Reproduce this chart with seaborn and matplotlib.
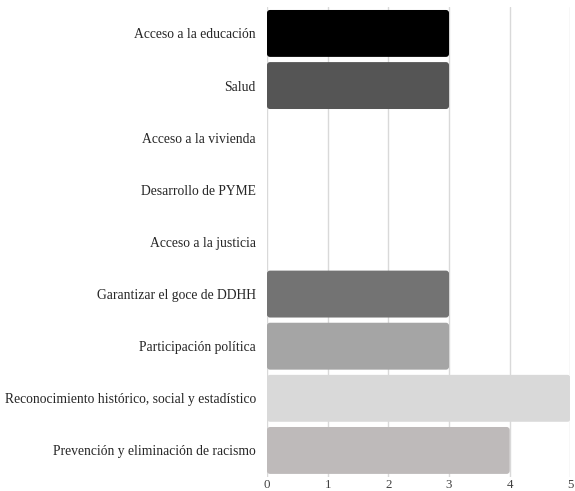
import matplotlib
matplotlib.use("Agg")
import matplotlib.pyplot as plt
import seaborn as sns
import pandas as pd
from matplotlib.patches import FancyBboxPatch

categorias = [
    "Acceso a la educación",
    "Salud",
    "Acceso a la vivienda",
    "Desarrollo de PYME",
    "Acceso a la justicia",
    "Garantizar el goce de DDHH",
    "Participación política",
    "Reconocimiento histórico, social y estadístico",
    "Prevención y eliminación de racismo",
]
valores = [3, 3, 0, 0, 0, 3, 3, 5, 4]
colores = ["#000000", "#555555", "#444444", "#666666", "#888888",
           "#737373", "#a5a5a5", "#d9d9d9", "#bfb9b9"]

df = pd.DataFrame({"categoria": categorias, "valor": valores})

sns.set_style("white")
plt.rcParams["font.family"] = ["Liberation Serif", "DejaVu Serif"]

fig = plt.figure(figsize=(5.75, 4.91), dpi=100)
ax = fig.add_axes([0.4643, 0.0295, 0.5277, 0.9555])

sns.barplot(data=df, x="valor", y="categoria", hue="categoria",
            palette=colores, legend=False, width=0.9, ax=ax, zorder=3)

# bordes redondeados como en el original
for p in list(ax.patches):
    x0, y0 = p.get_x(), p.get_y()
    w, h = p.get_width(), p.get_height()
    if w <= 0:
        p.remove()
        continue
    fb = FancyBboxPatch((x0, y0), w, h,
                        boxstyle="round,pad=0,rounding_size=0.05",
                        mutation_aspect=1.17,
                        facecolor=p.get_facecolor(), edgecolor="none", zorder=3)
    p.remove()
    ax.add_patch(fb)

ax.set_xlim(0, 5)
ax.set_ylim(8.5, -0.5)
ax.set_xticks(range(6))
ax.xaxis.grid(True, color="#d9d9d9", linewidth=1, zorder=0)
ax.yaxis.grid(False)
ax.set_xlabel("")
ax.set_ylabel("")
for s in ax.spines.values():
    s.set_visible(False)
ax.tick_params(axis="y", length=0, pad=8, labelsize=9.8, colors="#262626")
ax.tick_params(axis="x", length=0, pad=1.5, labelsize=9.3, colors="#404040")

fig.savefig("out.png", dpi=100)
